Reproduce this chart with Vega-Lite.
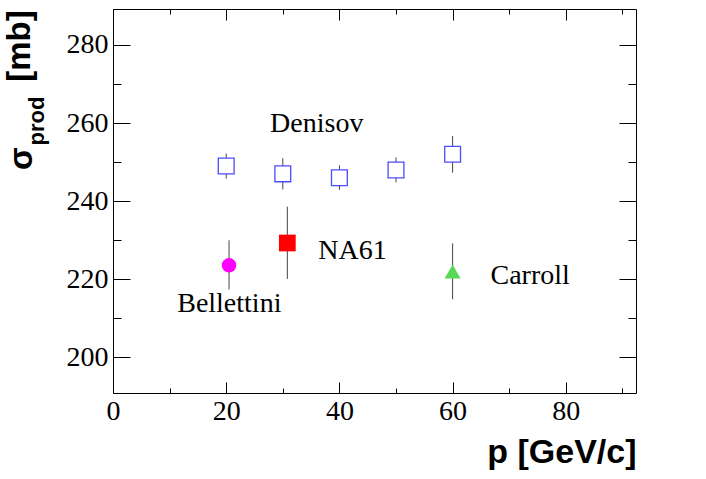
{
  "$schema": "https://vega.github.io/schema/vega-lite/v6.json",
  "width": 523,
  "height": 384,
  "autosize": {"type": "none"},
  "padding": {"left": 113, "top": 9, "right": 70, "bottom": 86},
  "background": "white",
  "datasets": {
    "points": [
      {"experiment": "Denisov", "p": 20, "sigma": 249.0, "lo": 245.8, "hi": 252.2},
      {"experiment": "Denisov", "p": 30, "sigma": 247.0, "lo": 243.0, "hi": 251.0},
      {"experiment": "Denisov", "p": 40, "sigma": 246.0, "lo": 242.9, "hi": 249.2},
      {"experiment": "Denisov", "p": 50, "sigma": 248.0, "lo": 244.8, "hi": 251.2},
      {"experiment": "Denisov", "p": 60, "sigma": 252.0, "lo": 247.3, "hi": 256.7},
      {"experiment": "NA61", "p": 30.8, "sigma": 229.3, "lo": 220.1, "hi": 238.6},
      {"experiment": "Bellettini", "p": 20.5, "sigma": 223.6, "lo": 217.4, "hi": 230.0},
      {"experiment": "Carroll", "p": 60, "sigma": 222.0, "lo": 214.9, "hi": 229.2}
    ],
    "labels": [
      {"label": "Denisov", "lx": 36.0, "ly": 257.8},
      {"label": "NA61", "lx": 42.3, "ly": 225.1},
      {"label": "Carroll", "lx": 73.7, "ly": 218.8},
      {"label": "Bellettini", "lx": 20.55, "ly": 211.7}
    ],
    "ytitle": [
      {"label": "[mb]", "lx": -16.5, "ly": 279.7},
      {"label": "σ", "lx": -16.0, "ly": 250.9}
    ],
    "ysub": [
      {"label": "prod", "lx": -13.4, "ly": 260.5}
    ]
  },
  "layer": [
    {
      "data": {"name": "points"},
      "mark": {"type": "rule", "color": "#444444", "strokeWidth": 1},
      "encoding": {
        "x": {
          "field": "p", "type": "quantitative",
          "scale": {"domain": [0, 92.4], "nice": false, "zero": false},
          "axis": {
            "orient": "bottom", "values": [0, 20, 40, 60, 80], "format": "d",
            "ticks": false, "domain": false, "labelFlush": false, "labelOverlap": false,
            "labelPadding": 26, "labelBaseline": "alphabetic",
            "title": "p [GeV/c]", "titleFont": "Liberation Sans", "titleFontWeight": "bold",
            "titleFontSize": 34, "titleColor": "black", "titleAlign": "right",
            "titleBaseline": "alphabetic", "titleX": 523, "titleY": 69
          }
        },
        "y": {
          "field": "lo", "type": "quantitative",
          "scale": {"domain": [190.9, 289.2], "nice": false, "zero": false},
          "axis": {
            "orient": "left", "values": [200, 220, 240, 260, 280], "format": "d",
            "ticks": false, "domain": false, "labelFlush": false, "labelOverlap": false,
            "labelPadding": 5, "title": null
          }
        },
        "y2": {"field": "hi"}
      }
    },
    {
      "data": {"name": "points"},
      "transform": [{"filter": "datum.experiment == 'Denisov'"}],
      "mark": {"type": "point", "shape": "square", "size": 250, "fill": "white", "stroke": "#4b4bff", "strokeWidth": 1.3, "opacity": 1},
      "encoding": {
        "x": {"field": "p", "type": "quantitative",
          "axis": {"orient": "bottom", "values": [0, 20, 40, 60, 80], "labels": false, "domain": false, "tickSize": -11, "title": null}},
        "y": {"field": "sigma", "type": "quantitative",
          "axis": {"orient": "left", "values": [200, 220, 240, 260, 280], "labels": false, "domain": false, "tickSize": -17, "title": null}}
      }
    },
    {
      "data": {"name": "points"},
      "transform": [{"filter": "datum.experiment == 'NA61'"}],
      "mark": {"type": "square", "size": 280, "color": "#ff0000", "opacity": 1},
      "encoding": {
        "x": {"field": "p", "type": "quantitative",
          "axis": {"orient": "bottom", "values": [10, 30, 50, 70, 90], "labels": false, "domain": false, "tickSize": -5, "title": null}},
        "y": {"field": "sigma", "type": "quantitative",
          "axis": {"orient": "left", "values": [210, 230, 250, 270], "labels": false, "domain": false, "tickSize": -8, "title": null}}
      }
    },
    {
      "data": {"name": "points"},
      "transform": [{"filter": "datum.experiment == 'Bellettini'"}],
      "mark": {"type": "circle", "size": 210, "color": "#ff00ff", "opacity": 1},
      "encoding": {
        "x": {"field": "p", "type": "quantitative",
          "axis": {"orient": "top", "values": [0, 20, 40, 60, 80], "labels": false, "domain": false, "tickSize": -11, "title": null}},
        "y": {"field": "sigma", "type": "quantitative",
          "axis": {"orient": "right", "values": [200, 220, 240, 260, 280], "labels": false, "domain": false, "tickSize": -17, "title": null}}
      }
    },
    {
      "data": {"name": "points"},
      "transform": [{"filter": "datum.experiment == 'Carroll'"}],
      "mark": {"type": "point", "shape": "triangle-up", "size": 256, "filled": true, "color": "#57d957", "opacity": 1},
      "encoding": {
        "x": {"field": "p", "type": "quantitative",
          "axis": {"orient": "top", "values": [10, 30, 50, 70, 90], "labels": false, "domain": false, "tickSize": -5, "title": null}},
        "y": {"field": "sigma", "type": "quantitative",
          "axis": {"orient": "right", "values": [210, 230, 250, 270], "labels": false, "domain": false, "tickSize": -8, "title": null}}
      }
    },
    {
      "data": {"name": "labels"},
      "mark": {"type": "text", "font": "Liberation Serif", "fontSize": 28, "align": "center", "baseline": "alphabetic", "color": "black"},
      "encoding": {
        "x": {"field": "lx", "type": "quantitative", "axis": null},
        "y": {"field": "ly", "type": "quantitative", "axis": null},
        "text": {"field": "label"}
      }
    },
    {
      "data": {"name": "ytitle"},
      "mark": {"type": "text", "font": "Liberation Sans", "fontWeight": "bold", "fontSize": 33, "angle": 270, "align": "center", "baseline": "middle", "color": "black"},
      "encoding": {
        "x": {"field": "lx", "type": "quantitative", "axis": null},
        "y": {"field": "ly", "type": "quantitative", "axis": null},
        "text": {"field": "label"}
      }
    },
    {
      "data": {"name": "ysub"},
      "mark": {"type": "text", "font": "Liberation Sans", "fontWeight": "bold", "fontSize": 22, "angle": 270, "align": "center", "baseline": "middle", "color": "black"},
      "encoding": {
        "x": {"field": "lx", "type": "quantitative", "axis": null},
        "y": {"field": "ly", "type": "quantitative", "axis": null},
        "text": {"field": "label"}
      }
    }
  ],
  "resolve": {"scale": {"x": "shared", "y": "shared"}, "axis": {"x": "independent", "y": "independent"}},
  "config": {
    "view": {"stroke": "black", "strokeWidth": 1},
    "axis": {
      "grid": false,
      "labelFont": "Liberation Serif",
      "labelFontSize": 28,
      "labelColor": "black",
      "tickColor": "black",
      "tickWidth": 1
    }
  }
}
